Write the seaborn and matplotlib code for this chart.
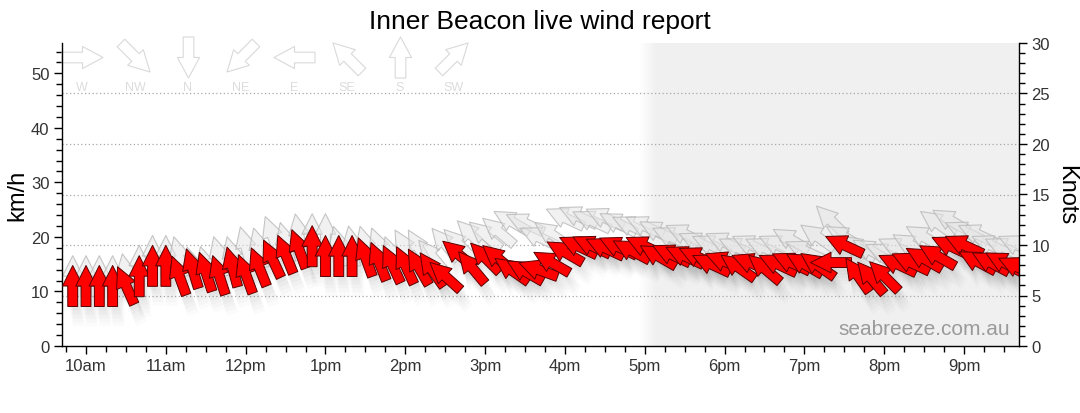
import numpy as np
import pandas as pd
import matplotlib
matplotlib.use('Agg')
import matplotlib.pyplot as plt
import seaborn as sns
from matplotlib.path import Path
from matplotlib.markers import MarkerStyle
from matplotlib.transforms import Affine2D, offset_copy
from matplotlib.ticker import MultipleLocator, FixedLocator

# =============================================================================
# Data: 10 minute readings, 9:50am to 9:40pm
# speeds in km/h, directions = where the wind comes FROM (degrees)
# =============================================================================
avg_kmh = [11.0, 11.0, 11.0, 11.0, 11.1, 12.8, 14.7, 14.7, 12.9, 14.2, 13.6, 13.0,
           14.5, 13.2, 14.5, 16.0, 16.8, 17.8, 18.3, 16.5, 16.5, 16.5, 16.3, 15.5,
           15.0, 14.8, 14.5, 14.0, 12.8, 16.8, 14.4, 16.2, 16.0, 13.9, 13.7, 14.0,
           15.3, 17.2, 18.3, 18.4, 18.0, 18.2, 17.5, 18.3, 16.5, 16.8, 16.5, 16.3,
           15.0, 15.5, 14.5, 15.2, 14.2, 15.0, 15.3, 15.0, 14.8, 15.3, 18.5, 13.0,
           12.5, 12.8, 15.0, 15.3, 16.0, 16.5, 18.3, 18.5, 15.5, 15.3, 15.3, 14.5]
avg_from = [180, 180, 180, 180, 156, 180, 180, 180, 160, 163, 162, 162,
            165, 160, 158, 155, 158, 160, 180, 180, 180, 180, 160, 158,
            155, 155, 150, 145, 132, 130, 140, 135, 130, 125, 120, 110,
            120, 120, 115, 115, 115, 115, 118, 115, 120, 115, 115, 115,
            115, 112, 125, 112, 130, 115, 115, 120, 125, 90, 115, 145,
            140, 135, 115, 115, 120, 120, 115, 115, 118, 118, 118, 115]
gust_kmh = [12.8, 12.8, 12.8, 12.8, 13.2, 14.7, 16.5, 16.5, 16.4, 14.5, 14.6, 16.4,
            16.4, 18.2, 18.0, 20.2, 19.0, 20.5, 20.5, 20.5, 18.3, 18.3, 18.3, 18.1,
            16.5, 18.0, 18.0, 16.5, 18.7, 18.7, 20.3, 20.3, 21.0, 22.8, 22.5, 20.0,
            20.5, 23.5, 23.8, 23.0, 23.5, 22.5, 22.0, 22.0, 21.0, 20.0, 20.5, 19.0,
            18.5, 19.0, 18.0, 18.5, 18.0, 18.5, 19.5, 17.5, 20.0, 23.0, 20.0, 18.0,
            17.5, 17.0, 18.0, 18.5, 20.0, 22.5, 23.0, 21.0, 20.5, 18.5, 18.0, 18.5]
gust_from = [180, 180, 180, 180, 170, 180, 180, 180, 165, 165, 165, 165,
             165, 165, 165, 160, 165, 170, 180, 180, 165, 170, 165, 160,
             160, 150, 150, 140, 140, 135, 135, 130, 130, 120, 115, 115,
             125, 115, 115, 115, 115, 118, 115, 115, 118, 115, 115, 115,
             115, 115, 115, 115, 115, 115, 120, 115, 125, 135, 120, 125,
             120, 115, 115, 120, 120, 125, 120, 115, 115, 115, 115, 115]

readings = pd.date_range('2024-01-01 09:50', periods=len(avg_kmh), freq='10min')
hours = readings.hour + readings.minute / 60

compass_names = ['W', 'NW', 'N', 'NE', 'E', 'SE', 'S', 'SW']
compass_from = [270, 315, 0, 45, 90, 135, 180, 225]

hour_ticks = [10, 11, 12, 13, 14, 15, 16, 17, 18, 19, 20, 21]
hour_labels = ['10am', '11am', '12pm', '1pm', '2pm', '3pm', '4pm', '5pm',
               '6pm', '7pm', '8pm', '9pm']
knot_grid = [5, 10, 15, 20, 25]

KMH_PER_KNOT = 1.852

df_avg = pd.DataFrame({'hour': hours, 'kmh': avg_kmh, 'dir': avg_from})
df_gust = pd.DataFrame({'hour': hours, 'kmh': gust_kmh, 'dir': gust_from})


# =============================================================================
# Arrow marker (points up, centred on the base of the head)
# =============================================================================
def arrow_path(head_half, shaft_half):
    verts = [(0, 0.5), (-head_half, 0), (-shaft_half, 0), (-shaft_half, -0.5),
             (shaft_half, -0.5), (shaft_half, 0), (head_half, 0), (0, 0.5)]
    codes = [Path.MOVETO] + [Path.LINETO] * 6 + [Path.CLOSEPOLY]
    return Path(verts, codes)


data_arrow = arrow_path(0.25, 0.12)
key_arrow = arrow_path(0.27, 0.13)


def arrow_marker(from_deg, shape):
    # wind from the south blows north -> arrow pointing up
    return MarkerStyle(shape, transform=Affine2D().rotate_deg(-(from_deg + 180)))


def marker_map(dirs, shape):
    return {d: arrow_marker(d, shape) for d in sorted(set(dirs))}


# =============================================================================
# Plot
# =============================================================================
sns.set_theme(style='ticks')
plt.rcParams['font.family'] = ['Liberation Sans', 'DejaVu Sans']

fig = plt.figure(figsize=(10.8, 4.14), dpi=100)
ax = fig.add_axes([62 / 1080, 1 - 347 / 414, 957 / 1080, 303 / 414])

x_min, x_max = 9.699, 21.689
y_max = 30 * KMH_PER_KNOT

# evening shading with a soft left edge
night_start = 16.93
fade = np.linspace(0, 1, 64).reshape(1, -1)
ax.imshow(fade, extent=[night_start, night_start + 0.22, 0, y_max], aspect='auto',
          cmap=matplotlib.colors.LinearSegmentedColormap.from_list('f', ['#ffffff', '#f0f0f0']),
          zorder=0, interpolation='bilinear')
ax.axvspan(night_start + 0.22, x_max, color='#f0f0f0', lw=0, zorder=0)

for k in knot_grid:
    ax.axhline(k * KMH_PER_KNOT, color='#a8a8a8', ls=(0, (1, 2)), lw=0.9, zorder=0.5)

size = (41 * 0.72) ** 2

# soft shadow under the arrows
for dx, dy, a, grow in [(2, -4, 0.022, 1.0), (3, -7, 0.022, 1.1), (4, -10, 0.02, 1.2),
                        (5, -13, 0.018, 1.3), (6, -16, 0.015, 1.4)]:
    sns.scatterplot(data=df_avg, x='hour', y='kmh', style='dir',
                    markers=marker_map(avg_from, data_arrow), s=size * grow,
                    color='black', alpha=a, linewidth=0, legend=False, ax=ax,
                    transform=offset_copy(ax.transData, fig=fig, x=dx, y=dy, units='dots'),
                    zorder=1)

# gust arrows
sns.scatterplot(data=df_gust, x='hour', y='kmh', style='dir',
                markers=marker_map(gust_from, data_arrow), s=size,
                facecolor=(0.9, 0.9, 0.9, 0.55), edgecolor=(0.72, 0.72, 0.72, 0.8),
                linewidth=0.8, legend=False, ax=ax, zorder=2)

# average arrows
sns.scatterplot(data=df_avg, x='hour', y='kmh', style='dir',
                markers=marker_map(avg_from, data_arrow), s=size,
                facecolor='#ff0000', edgecolor='#5a0000',
                linewidth=0.7, legend=False, ax=ax, zorder=3)

# compass key
key_x = [(20 + 53 * i) / 957 for i in range(len(compass_names))]
for name, d, kx in zip(compass_names, compass_from, key_x):
    ax.scatter([kx], [0.953], marker=arrow_marker(d, key_arrow), s=size,
               facecolor='white', edgecolor='#d9d9d9', linewidth=0.8,
               transform=ax.transAxes, zorder=2, clip_on=False)
    ax.text(kx, 0.855, name, transform=ax.transAxes, ha='center', va='center',
            fontsize=9, color='#dcdcdc', zorder=2)

ax.text(0.991, 0.058, 'seabreeze.com.au', transform=ax.transAxes, ha='right',
        va='center', fontsize=15, color='#9a9a9a', zorder=4)

ax.set_xlim(x_min, x_max)
ax.set_ylim(0, y_max)
ax.set_xlabel('')
ax.set_ylabel('')
ax.xaxis.set_major_locator(FixedLocator(hour_ticks))
ax.set_xticklabels(hour_labels)
ax.xaxis.set_minor_locator(MultipleLocator(0.25))
ax.yaxis.set_major_locator(MultipleLocator(10))
ax.yaxis.set_minor_locator(MultipleLocator(2))
ax.tick_params(axis='both', which='major', length=6, width=1, color='black',
               labelsize=12, labelcolor='#333333', direction='out', pad=3)
ax.tick_params(axis='both', which='minor', length=4, width=1, color='black', direction='out')
ax.grid(False)
ax.spines['top'].set_visible(False)
for s in ['left', 'bottom']:
    ax.spines[s].set_color('black')
    ax.spines[s].set_linewidth(1)
ax.spines['right'].set_visible(False)

ax2 = ax.twinx()
ax2.set_ylim(0, 30)
ax2.yaxis.set_major_locator(MultipleLocator(5))
ax2.yaxis.set_minor_locator(MultipleLocator(1))
ax2.tick_params(axis='y', which='major', length=6, width=1, color='black',
                labelsize=12, labelcolor='#333333', direction='out', pad=3)
ax2.tick_params(axis='y', which='minor', length=4, width=1, color='black', direction='out')
ax2.grid(False)
for s in ['top', 'left', 'bottom']:
    ax2.spines[s].set_visible(False)
ax2.spines['right'].set_color('black')
ax2.spines['right'].set_linewidth(1)

fig.text(0.5, 1 - 22 / 414, 'Inner Beacon live wind report', ha='center', va='center',
         fontsize=19, color='black')
fig.text(17 / 1080, 1 - 195 / 414, 'km/h', rotation=90, ha='center', va='center',
         fontsize=17, color='black')
fig.text(1066 / 1080, 1 - 195 / 414, 'Knots', rotation=270, ha='center', va='center',
         fontsize=17, color='black')

plt.savefig('out.png', dpi=100)
